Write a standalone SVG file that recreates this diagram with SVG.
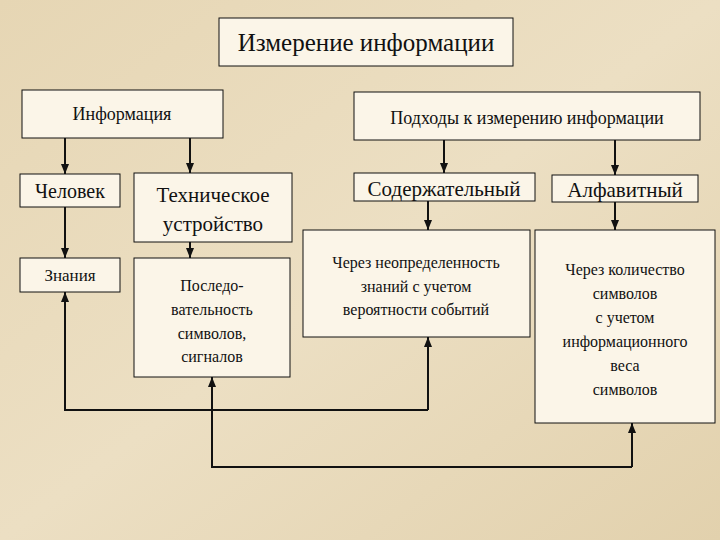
<svg xmlns="http://www.w3.org/2000/svg" width="720" height="540" viewBox="0 0 720 540" font-family="'Liberation Serif', 'DejaVu Serif', serif">
<defs>
<marker id="ah" viewBox="0 0 10 10" refX="10" refY="5" markerWidth="5" markerHeight="5" orient="auto"><path d="M0,1 L10,5 L0,9 z" fill="#111"/></marker>
<linearGradient id="bg" x1="0" y1="0" x2="1" y2="1"><stop offset="0" stop-color="#e6d6b4"/><stop offset="0.5" stop-color="#ecdfc3"/><stop offset="1" stop-color="#e2d1ad"/></linearGradient>
</defs>
<style>
.b{fill:#fbf5e8;stroke:#111;stroke-width:1}
text{font-family:'Liberation Serif','DejaVu Serif',serif;fill:#111;text-anchor:middle}
.c{fill:none;stroke:#111;stroke-width:2}
</style>
<rect width="720" height="540" fill="url(#bg)"/>
<g id="title"><rect class="b" x="219" y="18" width="294" height="48"/><text x="366" y="51" font-size="25">Измерение информации</text></g>
<g id="info"><rect class="b" x="22" y="90" width="201" height="48"/><text x="122" y="120" font-size="18">Информация</text></g>
<g id="chel"><rect class="b" x="20" y="174" width="100" height="33"/><text x="70" y="198" font-size="20">Человек</text></g>
<g id="tech"><rect class="b" x="134" y="173" width="158" height="69"/><text x="213" y="202" font-size="21">Техническое</text><text x="213" y="231" font-size="21">устройство</text></g>
<g id="znan"><rect class="b" x="20" y="258" width="100" height="34"/><text x="70" y="281" font-size="17">Знания</text></g>
<g id="posl"><rect class="b" x="134" y="258" width="156" height="119"/><text x="212" y="291" font-size="16">Последо-</text><text x="212" y="315" font-size="16">вательность</text><text x="212" y="339" font-size="16">символов,</text><text x="212" y="362" font-size="16">сигналов</text></g>
<g id="podh"><rect class="b" x="354" y="92" width="346" height="48"/><text x="527" y="124" font-size="18">Подходы к измерению информации</text></g>
<g id="sod"><rect class="b" x="354" y="173" width="181" height="28"/><text x="444" y="196" font-size="21">Содержательный</text></g>
<g id="alf"><rect class="b" x="552" y="175" width="146" height="27"/><text x="625" y="197" font-size="21">Алфавитный</text></g>
<g id="neopr"><rect class="b" x="303" y="230" width="227" height="107"/><text x="416" y="268" font-size="16">Через неопределенность</text><text x="416" y="292" font-size="16">знаний с учетом</text><text x="416" y="315" font-size="16">вероятности событий</text></g>
<g id="kol"><rect class="b" x="535" y="230" width="180" height="193"/><text x="625" y="275" font-size="16">Через количество</text><text x="625" y="299" font-size="16">символов</text><text x="625" y="323" font-size="16">с учетом</text><text x="625" y="347" font-size="16">информационного</text><text x="625" y="371" font-size="16">веса</text><text x="625" y="395" font-size="16">символов</text></g>
<g id="connectors">
<path class="c" d="M65,138 V174" marker-end="url(#ah)"/>
<path class="c" d="M190,138 V173" marker-end="url(#ah)"/>
<path class="c" d="M65,207 V258" marker-end="url(#ah)"/>
<path class="c" d="M190,242 V258" marker-end="url(#ah)"/>
<path class="c" d="M444,140 V173" marker-end="url(#ah)"/>
<path class="c" d="M615,140 V175" marker-end="url(#ah)"/>
<path class="c" d="M428,201 V230" marker-end="url(#ah)"/>
<path class="c" d="M615,202 V230" marker-end="url(#ah)"/>
<path class="c" d="M428,410 H65 V292" marker-end="url(#ah)"/>
<path class="c" d="M428,410 V337" marker-end="url(#ah)"/>
<path class="c" d="M632,467 H212 V377" marker-end="url(#ah)"/>
<path class="c" d="M632,467 V423" marker-end="url(#ah)"/>
</g>
</svg>
